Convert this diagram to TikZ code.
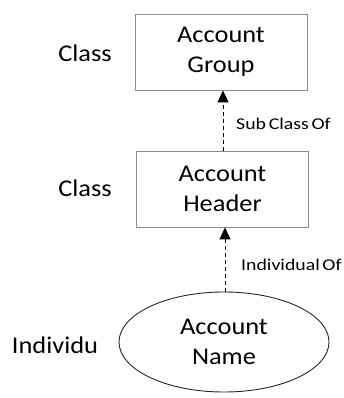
\documentclass[tikz,border=0pt]{standalone}
\usepackage{fontspec}
\setmainfont{Carlito}[FakeStretch=1.1]
\newfontfamily\labfont{Carlito}[FakeStretch=1.2,WordSpace=0.6]
\usetikzlibrary{arrows.meta,shapes.geometric}
\begin{document}
\begin{tikzpicture}[x=1pt,y=-1pt,
  cls/.style={draw=black!45,line width=0.9pt,minimum width=172pt,minimum height=76pt,align=center,font=\fontsize{24}{30}\selectfont,inner sep=0pt},
  ind/.style={ellipse,draw=black!85,line width=0.9pt,minimum width=210pt,minimum height=100pt,align=center,font=\fontsize{24}{30}\selectfont,inner sep=0pt},
  side/.style={font=\fontsize{24}{28}\selectfont,anchor=center},
  rel/.style={dashed,line width=1pt,dash pattern=on 4pt off 3pt,-{Triangle[length=12pt,width=11pt]}},
  lab/.style={font=\labfont\fontsize{16.5}{20}\selectfont,anchor=west,inner sep=0pt}]
\useasboundingbox (0,0) rectangle (344,398);
\node[cls] (group) at (221,52) {Account\\Group};
\node[cls] (header) at (222.5,189) {Account\\Header};
\node[ind] (name) at (224,342) {Account\\Name};
\node[side] (c1) at (85,53) {Class};
\node[side] (c2) at (85,188) {Class};
\node[side] (c3) at (55,345) {Individu};
\draw[rel] (header.north -| 223,0) -- (group.south -| 223,0);
\draw[rel] (name.north -| 225,0) -- (header.south -| 225,0);
\node[lab] (l1) at (236,124) {Sub Class Of};
\node[lab] (l2) at (241,265) {Individual Of};
\end{tikzpicture}
\end{document}
